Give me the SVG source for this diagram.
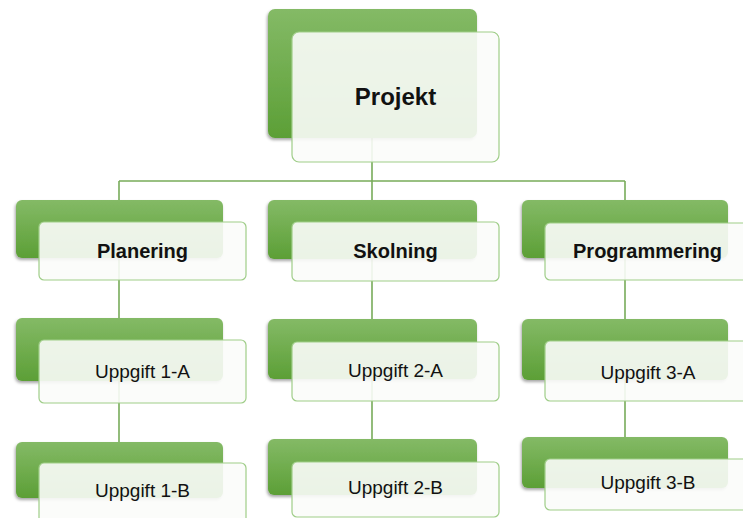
<svg xmlns="http://www.w3.org/2000/svg" width="743" height="518" viewBox="0 0 743 518">
<defs>
<linearGradient id="g" x1="0" y1="0" x2="0" y2="1">
<stop offset="0" stop-color="#84ba66"/>
<stop offset="1" stop-color="#5c9f36"/>
</linearGradient>
<filter id="sh" x="-10%" y="-10%" width="120%" height="130%">
<feDropShadow dx="-1" dy="2" stdDeviation="1.5" flood-color="#000" flood-opacity="0.35"/>
</filter>
</defs>
<style>
.back{fill:url(#g);filter:url(#sh)}
.front{fill:#fbfcfa;fill-opacity:0.9;stroke:#9fcd88;stroke-width:1.2}
.t{font-family:"Liberation Sans",Arial,sans-serif;fill:#111;text-anchor:middle}
.b{font-weight:bold;font-size:20px}
.r{font-size:19px}
.c{fill:none;stroke:#78ac5a;stroke-width:1.6}
</style>
<rect width="743" height="518" fill="#fff"/>
<g id="connectors">
<path class="c" d="M372 138V181M119 181H625M119 181V200M372 181V200M625 181V200"/>
<path class="c" d="M119 258V442M372 259V439M625 258V437"/>
</g>
<g id="projekt">
<rect class="back" x="268" y="9" width="209" height="129" rx="7"/>
<rect class="front" x="292" y="32" width="207" height="130" rx="7"/>
<text class="t b" x="395.5" y="105" style="font-size:24px">Projekt</text>
</g>
<g id="planering">
<rect class="back" x="16" y="200" width="207" height="58" rx="6"/>
<rect class="front" x="39" y="222" width="207" height="58" rx="5"/>
<text class="t b" x="142.5" y="258">Planering</text>
</g>
<g id="skolning">
<rect class="back" x="268" y="200" width="209" height="59" rx="6"/>
<rect class="front" x="292" y="222" width="207" height="59" rx="5"/>
<text class="t b" x="395.5" y="258">Skolning</text>
</g>
<g id="programmering">
<rect class="back" x="522" y="200" width="206" height="58" rx="6"/>
<rect class="front" x="545" y="223" width="207" height="57" rx="5"/>
<text class="t b" x="647.5" y="258">Programmering</text>
</g>
<g id="uppgift-1a">
<rect class="back" x="16" y="318" width="207" height="63" rx="6"/>
<rect class="front" x="39" y="340" width="207" height="63" rx="5"/>
<text class="t r" x="142.5" y="378">Uppgift 1-A</text>
</g>
<g id="uppgift-1b">
<rect class="back" x="16" y="442" width="207" height="56" rx="6"/>
<rect class="front" x="39" y="463" width="207" height="62" rx="5"/>
<text class="t r" x="142.5" y="497">Uppgift 1-B</text>
</g>
<g id="uppgift-2a">
<rect class="back" x="268" y="319" width="209" height="60" rx="6"/>
<rect class="front" x="292" y="342" width="207" height="59" rx="5"/>
<text class="t r" x="395.5" y="377">Uppgift 2-A</text>
</g>
<g id="uppgift-2b">
<rect class="back" x="268" y="439" width="209" height="56" rx="6"/>
<rect class="front" x="292" y="462" width="207" height="55" rx="5"/>
<text class="t r" x="395.5" y="494">Uppgift 2-B</text>
</g>
<g id="uppgift-3a">
<rect class="back" x="522" y="319" width="206" height="61" rx="6"/>
<rect class="front" x="545" y="341" width="207" height="60" rx="5"/>
<text class="t r" x="648" y="379">Uppgift 3-A</text>
</g>
<g id="uppgift-3b">
<rect class="back" x="522" y="437" width="206" height="51" rx="6"/>
<rect class="front" x="545" y="459" width="207" height="51" rx="5"/>
<text class="t r" x="648" y="489">Uppgift 3-B</text>
</g>
</svg>
